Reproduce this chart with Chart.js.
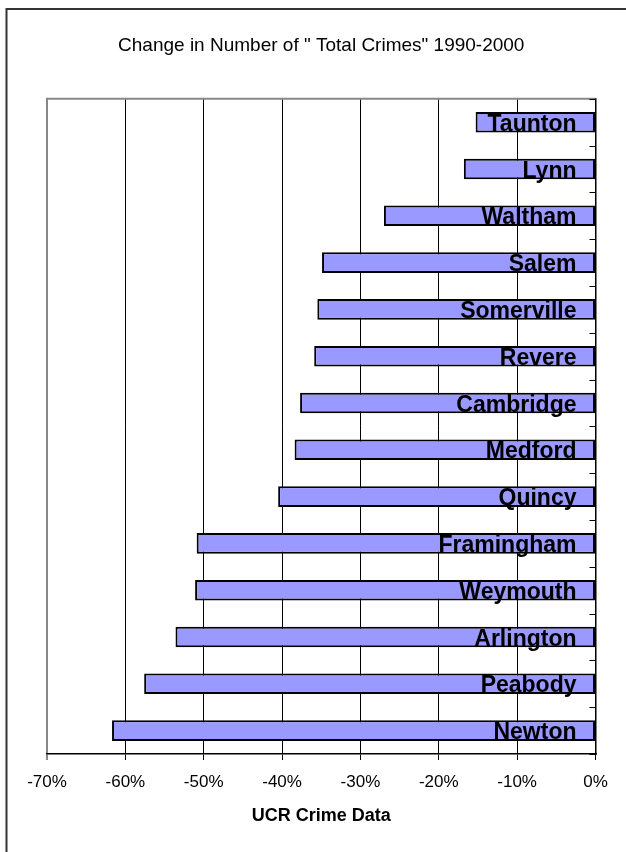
<!DOCTYPE html>
<html>
<head>
<meta charset="utf-8">
<script src="https://cdn.jsdelivr.net/npm/chart.js@4"></script>
<style>
  html, body { margin: 0; padding: 0; background: #fff; }
  canvas { display: block; }
</style>
</head>
<body>
<canvas id="crimeChart" width="626" height="852"></canvas>
<script>
// Міста (зверху вниз) і зміна кількості злочинів, %
const cities = ['Taunton', 'Lynn', 'Waltham', 'Salem', 'Somerville', 'Revere', 'Cambridge',
                'Medford', 'Quincy', 'Framingham', 'Weymouth', 'Arlington', 'Peabody', 'Newton'];
const changePct = [-15.3, -16.8, -27.0, -34.9, -35.5, -35.9, -37.7,
                   -38.4, -40.5, -50.9, -51.1, -53.6, -57.6, -61.7];
const xMin = -70;
const xMax = 0;
const xStep = 10;

const chartTitle = 'Change in Number of " Total Crimes" 1990-2000';
const xAxisTitle = 'UCR Crime Data';

const FONT = "'Liberation Sans', Arial, sans-serif";

// Рамка, мітки на правій осі та підписи міст усередині стовпчиків
const decorPlugin = {
    id: 'decor',
    afterDatasetsDraw(chart) {
        const ctx = chart.ctx;
        const area = chart.chartArea;
        const xs = chart.scales.x;
        const ys = chart.scales.y;
        ctx.save();

        // верхня межа області графіка (сіра)
        ctx.strokeStyle = '#888';
        ctx.lineWidth = 2;
        ctx.beginPath();
        ctx.moveTo(area.left - 1, area.top);
        ctx.lineTo(area.right, area.top);
        ctx.stroke();

        // короткі мітки між категоріями на правій осі
        ctx.strokeStyle = '#000';
        ctx.lineWidth = 1;
        const step = (ys.getPixelForValue(1) - ys.getPixelForValue(0));
        for (let i = 0; i <= cities.length; i++) {
            const y = Math.round(ys.getPixelForValue(i) - step / 2) + 0.5;
            ctx.beginPath();
            ctx.moveTo(area.right - 6, y);
            ctx.lineTo(area.right, y);
            ctx.stroke();
        }

        // підписи міст
        const meta = chart.getDatasetMeta(0);
        const zeroX = xs.getPixelForValue(0);
        ctx.fillStyle = '#000';
        ctx.font = 'bold 23px ' + FONT;
        ctx.textAlign = 'right';
        ctx.textBaseline = 'alphabetic';
        meta.data.forEach((bar, i) => {
            ctx.fillText(cities[i], zeroX - 19, bar.y + 8.5);
        });
        ctx.restore();
    },
    afterDraw(chart) {
        // зовнішня рамка зображення (зверху і зліва)
        const ctx = chart.ctx;
        ctx.save();
        ctx.strokeStyle = '#333';
        ctx.lineWidth = 2;
        ctx.beginPath();
        ctx.moveTo(6.5, chart.height);
        ctx.lineTo(6.5, 9);
        ctx.lineTo(chart.width, 9);
        ctx.stroke();
        ctx.restore();
    }
};

const ctx = document.getElementById('crimeChart').getContext('2d');
const chart = new Chart(ctx, {
    type: 'bar',
    data: {
        labels: cities,
        datasets: [{
            data: changePct,
            backgroundColor: '#9999FF',
            borderColor: '#000',
            borderWidth: 2,
            borderSkipped: false,
            barPercentage: 0.44,
            categoryPercentage: 1
        }]
    },
    options: {
        indexAxis: 'y',
        responsive: false,
        animation: false,
        layout: {
            padding: { left: 47, right: 30.5, top: 0, bottom: 25 }
        },
        scales: {
            x: {
                min: xMin,
                max: xMax,
                ticks: {
                    stepSize: xStep,
                    color: '#000',
                    padding: 12,
                    font: { family: FONT, size: 17 },
                    callback: v => v + '%'
                },
                grid: {
                    color: c => (c.tick && c.tick.value === xMin) ? '#888' : '#000',
                    lineWidth: c => (c.tick && c.tick.value === xMin) ? 2 : 1,
                    tickLength: 6
                },
                border: { color: '#000', width: 1.5 },
                title: {
                    display: true,
                    text: xAxisTitle,
                    color: '#000',
                    font: { family: FONT, size: 18, weight: 'bold' },
                    padding: { top: 1, bottom: 0 }
                }
            },
            y: {
                position: 'right',
                ticks: { display: false },
                grid: { display: false },
                border: { display: true, color: '#000', width: 1.5 },
                afterFit: s => { s.width = 0; }
            }
        },
        plugins: {
            legend: { display: false },
            tooltip: { enabled: false },
            title: {
                display: true,
                text: chartTitle,
                color: '#000',
                font: { family: FONT, size: 19, weight: 'normal' },
                padding: { top: 34, bottom: 42 }
            }
        }
    },
    plugins: [decorPlugin]
});
</script>
</body>
</html>
